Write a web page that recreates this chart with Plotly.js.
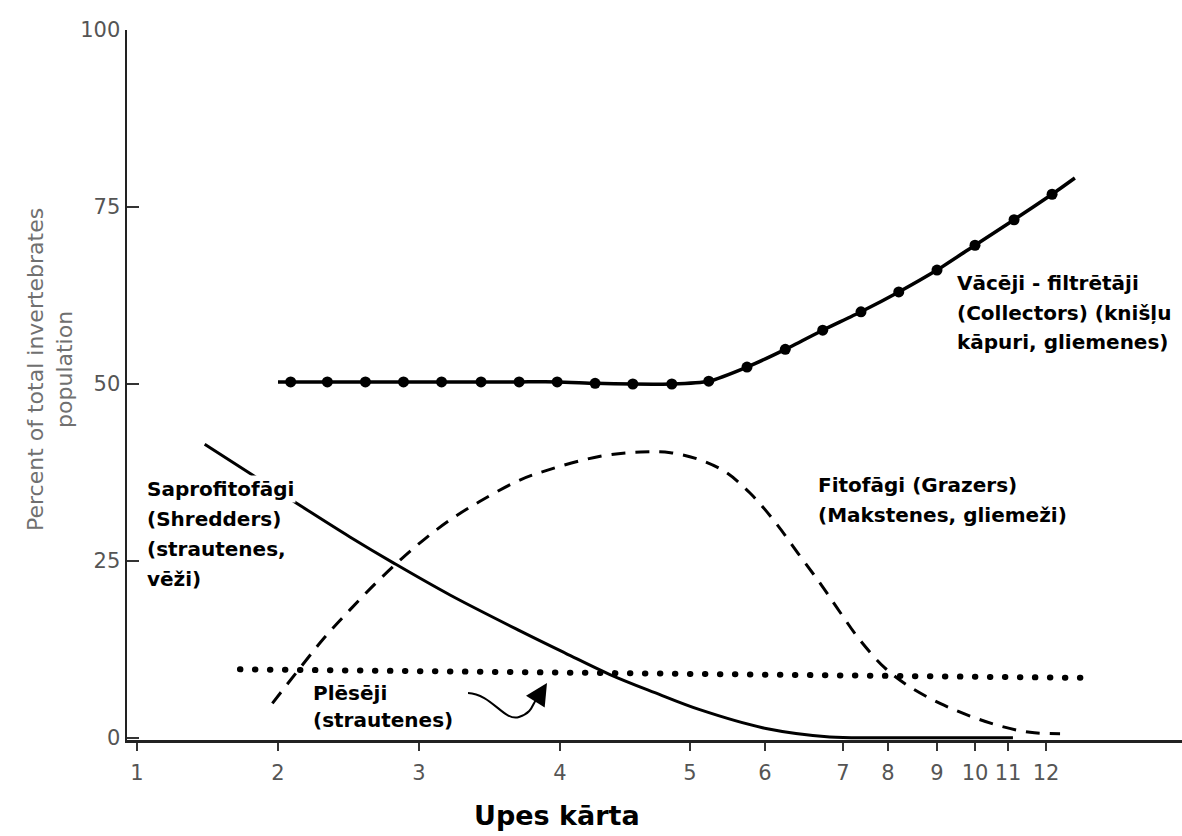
<!DOCTYPE html>
<html>
<head>
<meta charset="utf-8">
<script src="https://cdn.plot.ly/plotly-3.0.1.min.js"></script>
<style>
html,body{margin:0;padding:0;background:#fff;}
#chart{width:1182px;height:836px;}
.scatterlayer .trace:nth-child(4) path.js-line{stroke-linecap:round;}
</style>
</head>
<body>
<div id="chart"></div>
<script>
// ---- axis definition (printed river-order scale is uneven) ----
const riverOrder = [1, 2, 3, 4, 5, 6, 7, 8, 9, 10, 11, 12];
const tickLabels = ['1', '2', '3', '4', '5', '6', '7', '8', '9', '10', '11', '12'];
const orderStops = [137, 278, 419, 560, 690, 765, 843, 888, 937, 975, 1008, 1046];
const pctTicks = [0, 25, 50, 75, 100];

// ---- series (river order vs percent of total invertebrate population) ----
const collectorsOrder = [2.00, 2.09, 2.35, 2.62, 2.89, 3.16, 3.44, 3.71, 3.98, 4.27, 4.56, 4.86, 5.25, 5.76, 6.26, 6.74, 7.40, 8.22, 9.00, 10.00, 11.16, 12.16, 12.76];
const collectorsPct   = [50.3, 50.3, 50.3, 50.3, 50.3, 50.3, 50.3, 50.3, 50.3, 50.1, 50.0, 50.0, 50.4, 52.4, 54.9, 57.6, 60.2, 63.0, 66.1, 69.6, 73.2, 76.8, 79.1];
const collectorsSampled = [false, true, true, true, true, true, true, true, true, true, true, true, true, true, true, true, true, true, true, true, true, true, false];

const shreddersOrder = [1.48, 1.80, 2.16, 2.51, 2.83, 3.22, 3.72, 4.04, 4.38, 4.73, 5.13, 6.03, 6.83, 8.04, 11.13];
const shreddersPct   = [41.5, 37.4, 32.8, 28.4, 24.6, 20.2, 15.1, 12.0, 9.0, 6.4, 4.0, 1.3, 0.15, 0.05, 0.03];

const grazersOrder = [1.96, 2.16, 2.33, 2.51, 2.69, 2.87, 3.04, 3.22, 3.43, 3.70, 3.89, 4.31, 4.62, 4.85, 5.13, 5.47, 5.80, 6.13, 6.45, 6.71, 6.96, 7.38, 7.93, 8.45, 9.08, 9.87, 10.76, 11.58, 12.37];
const grazersPct   = [4.9, 10.0, 14.2, 18.1, 21.8, 25.2, 28.1, 30.8, 33.4, 36.3, 37.7, 39.8, 40.4, 40.3, 39.3, 37.6, 34.6, 30.5, 25.7, 21.8, 17.8, 13.8, 9.9, 7.2, 4.9, 3.1, 1.7, 0.8, 0.6];

const predatorsOrder = [1.73, 12.95];
const predatorsPct   = [9.7, 8.5];

// ---- text ----
const labelCollectors = ['Vācēji - filtrētāji', '(Collectors) (knišļu', 'kāpuri, gliemenes)'];
const labelShredders  = ['Saprofitofāgi', '(Shredders)', '(strautenes,', 'vēži)'];
const labelGrazers    = ['Fitofāgi (Grazers)', '(Makstenes, gliemeži)'];
const labelPredators  = ['Plēsēji', '(strautenes)'];
const xTitle = 'Upes kārta';
const yTitleLines = ['Percent of total invertebrates', 'population'];

// piecewise-linear placement of a river order on the printed scale
function toAxis(r) {
  const n = riverOrder.length;
  let i = Math.floor(r) - 1;
  if (i < 0) i = 0;
  if (i > n - 2) i = n - 2;
  return orderStops[i] + (r - riverOrder[i]) * (orderStops[i + 1] - orderStops[i]);
}

const PLOT_TOP = 30, PLOT_BOTTOM = 740, PLOT_H = PLOT_BOTTOM - PLOT_TOP;
function paperY(py) { return (PLOT_BOTTOM - py) / PLOT_H; }
const Y0 = -0.28, Y1 = 100;
function dataY(py) { return Y1 - (py - PLOT_TOP) / PLOT_H * (Y1 - Y0); }

const traces = [
  {
    x: shreddersOrder.map(toAxis), y: shreddersPct,
    mode: 'lines', line: {color: '#000', width: 3, shape: 'spline', smoothing: 1},
    hoverinfo: 'skip', showlegend: false
  },
  {
    x: grazersOrder.map(toAxis), y: grazersPct,
    mode: 'lines', line: {color: '#000', width: 3, shape: 'spline', smoothing: 1, dash: '14px,10px'},
    hoverinfo: 'skip', showlegend: false
  },
  {
    x: collectorsOrder.map(toAxis), y: collectorsPct,
    mode: 'lines+markers', line: {color: '#000', width: 3.5, shape: 'spline', smoothing: 0.6},
    marker: {color: '#000', opacity: 1, size: collectorsSampled.map(s => s ? 11 : 0), line: {width: 0}},
    hoverinfo: 'skip', showlegend: false
  },
  {
    x: predatorsOrder.map(toAxis), y: predatorsPct,
    mode: 'lines', line: {color: '#000', width: 6, dash: '0.5px,14.5px'},
    hoverinfo: 'skip', showlegend: false
  }
];

const LABEL_FONT = {family: 'DejaVu Sans', size: 20, color: '#000'};
const annotations = [];
function addBlock(lines, left, firstPy, spacing, bg) {
  lines.forEach((t, i) => {
    annotations.push({
      xref: 'x', x: left, xanchor: 'left',
      yref: 'paper', y: paperY(firstPy + i * spacing), yanchor: 'middle',
      text: '<b>' + t + '</b>', showarrow: false, font: LABEL_FONT,
      bgcolor: bg ? '#ffffff' : 'rgba(0,0,0,0)', borderpad: 1
    });
  });
}
addBlock(labelCollectors, 955, 283, 29.5, false);
addBlock(labelShredders, 145, 489, 30, true);
addBlock(labelGrazers, 816, 485, 30, false);
addBlock(labelPredators, 311, 693, 27, false);

annotations.push({
  xref: 'x', x: 557, xanchor: 'center',
  yref: 'paper', y: paperY(815), yanchor: 'middle',
  text: '<b>' + xTitle + '</b>', showarrow: false,
  font: {family: 'DejaVu Sans', size: 27, color: '#000'}
});
annotations.push({
  xref: 'paper', x: 0, xshift: -77, xanchor: 'center',
  yref: 'paper', y: paperY(370), yanchor: 'middle',
  text: yTitleLines.join('<br>'), textangle: -90, showarrow: false,
  font: {family: 'DejaVu Sans', size: 22, color: '#707070'}
});
// arrow head of the curved pointer
annotations.push({
  xref: 'x', x: 547, yref: 'y', y: dataY(683),
  ax: -10, ay: 16, axref: 'pixel', ayref: 'pixel',
  text: '', showarrow: true, arrowhead: 2, arrowsize: 2, arrowwidth: 2.2, arrowcolor: '#000', standoff: 0
});

const shapes = [{
  type: 'path', xref: 'x', yref: 'y',
  path: 'M 468,' + dataY(693) + ' C 492,' + dataY(694) + ' 504,' + dataY(722) + ' 519,' + dataY(717) +
        ' S 532,' + dataY(703) + ' 537,' + dataY(699),
  line: {color: '#000', width: 2}
}];

const tickFont = {family: 'DejaVu Sans', size: 21, color: '#555'};
const layout = {
  width: 1182, height: 836,
  margin: {l: 127, r: 0, t: PLOT_TOP, b: 836 - PLOT_BOTTOM, pad: 0},
  paper_bgcolor: '#ffffff', plot_bgcolor: '#ffffff',
  showlegend: false,
  xaxis: {
    range: [127, 1182], tickmode: 'array', tickvals: orderStops, ticktext: tickLabels,
    ticks: 'outside', ticklen: 8, tickwidth: 2, tickcolor: '#333', ticklabelstandoff: 4,
    showline: true, linecolor: '#222', linewidth: 2.5,
    showgrid: false, zeroline: false, tickfont: tickFont, fixedrange: true
  },
  yaxis: {
    range: [Y0, Y1], tickmode: 'array', tickvals: pctTicks, ticktext: pctTicks.map(String),
    ticks: 'inside', ticklen: 12, tickwidth: 2, tickcolor: '#333',
    showline: true, linecolor: '#222', linewidth: 2.5,
    showgrid: false, zeroline: false, tickfont: tickFont, fixedrange: true
  },
  annotations: annotations,
  shapes: shapes
};

Plotly.newPlot('chart', traces, layout, {displayModeBar: false, staticPlot: true}).then(gd => {
  const tr = gd.querySelectorAll('.scatterlayer .trace');
  if (tr[3]) {
    const p = tr[3].querySelector('path.js-line');
    if (p) p.style.strokeLinecap = 'round';
  }
});
</script>
</body>
</html>
